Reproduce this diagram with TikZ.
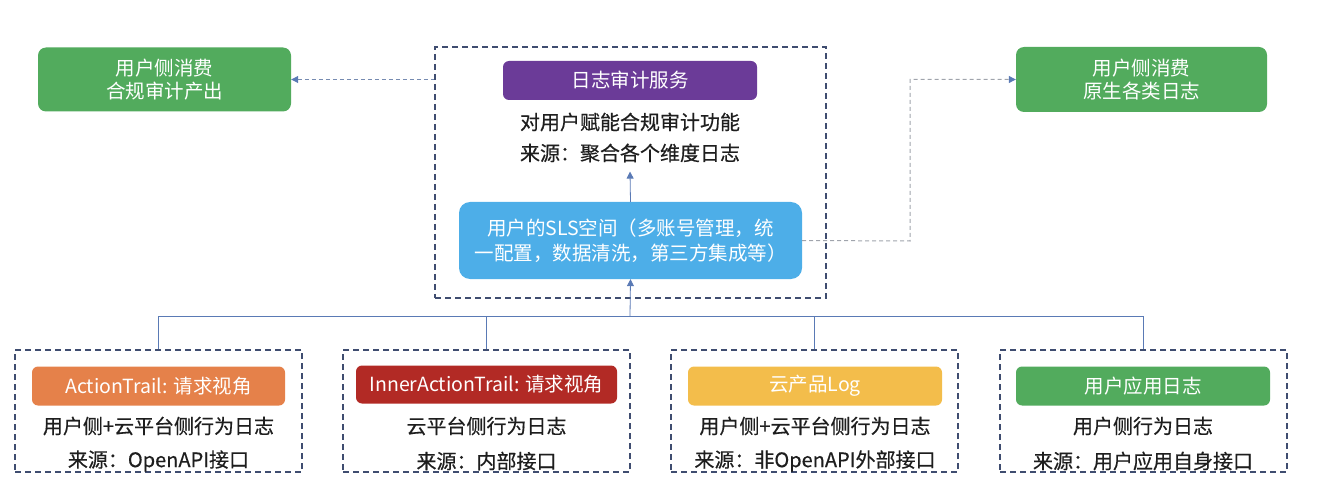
\documentclass[tikz,border=0pt]{standalone}
\usepackage{fontspec}
\setmainfont{Noto Sans CJK SC}
\newfontfamily\bodyfont{Noto Sans CJK SC}[FakeBold=0.5]
\usetikzlibrary{arrows.meta}
\definecolor{cgreen}{HTML}{52AB5D}
\definecolor{cpurple}{HTML}{6B3B98}
\definecolor{cblue}{HTML}{4DAEE8}
\definecolor{corange}{HTML}{E5814A}
\definecolor{cred}{HTML}{B22A25}
\definecolor{cyellow}{HTML}{F3BD4B}
\definecolor{cframe}{HTML}{3F4D70}
\definecolor{carrow}{HTML}{5A7AB5}
\definecolor{cgrey}{HTML}{A0A4AC}
\definecolor{ctext}{HTML}{1E1E1E}
\begin{document}
\begin{tikzpicture}[x=1pt,y=-1pt,
  fill box/.style={rounded corners=8pt, text=white, align=center, inner sep=0pt,
    font=\fontsize{19.5}{23}\selectfont},
  frame/.style={draw=cframe, line width=1.3pt, dash pattern=on 6pt off 4pt, inner sep=0pt},
  plain/.style={text=ctext, font=\bodyfont\fontsize{20}{23}\selectfont, inner sep=0pt},
  link/.style={draw=carrow, line width=0.8pt},
  tip/.style={-{Triangle[width=7pt,length=7pt,color=carrow]}},
  rtip/.style={{Triangle[width=7pt,length=7pt,color=carrow]}-},
  dlink/.style={draw=cgrey, line width=1pt, dash pattern=on 4pt off 3pt}
]
\useasboundingbox (0,0) rectangle (1326,500);

% central frame
\node[frame, minimum width=391pt, minimum height=251pt] (cbox) at (630.5,172.5) {};

\node[fill box, fill=cgreen, minimum width=253pt, minimum height=64pt] (lg) at (164.5,79.5) {用户侧消费\\合规审计产出};
\node[fill box, fill=cgreen, minimum width=251pt, minimum height=65pt] (rg) at (1141.5,79.5) {用户侧消费\\原生各类日志};

\node[fill box, fill=cpurple, rounded corners=6pt, minimum width=254pt, minimum height=39pt] (audit) at (630,80.5) {日志审计服务};
\node[plain] (t1) at (630,122) {对用户赋能合规审计功能};
\node[plain] (t2) at (630,153) {来源：聚合各个维度日志};

\node[fill box, fill=cblue, rounded corners=11pt, minimum width=343pt, minimum height=77pt,
  font=\fontsize{19.5}{25}\selectfont] (sls) at (630.5,240.5) {用户的SLS空间（多账号管理，统\\一配置，数据清洗，第三方集成等）};

% bottom frames
\node[frame, minimum width=287pt, minimum height=122pt] (b1) at (158.5,411) {};
\node[frame, minimum width=287pt, minimum height=122pt] (b2) at (486.5,411) {};
\node[frame, minimum width=287pt, minimum height=122pt] (b3) at (814.5,411) {};
\node[frame, minimum width=287pt, minimum height=122pt] (b4) at (1143.5,411) {};

\node[fill box, fill=corange, rounded corners=6pt, minimum width=253pt, minimum height=39pt] (h1) at (158.5,386) {ActionTrail: 请求视角};
\node[fill box, fill=cred, rounded corners=6pt, minimum width=261pt, minimum height=38pt] (h2) at (486.5,384.5) {InnerActionTrail: 请求视角};
\node[fill box, fill=cyellow, rounded corners=6pt, minimum width=254pt, minimum height=39pt] (h3) at (815,386) {云产品Log};
\node[fill box, fill=cgreen, rounded corners=6pt, minimum width=254pt, minimum height=39pt] (h4) at (1143,386) {用户应用日志};

\node[plain] (a1) at (158.5,426) {用户侧+云平台侧行为日志};
\node[plain] (a2) at (158.5,461) {来源：OpenAPI接口};
\node[plain] (c1) at (486.5,426) {云平台侧行为日志};
\node[plain] (c2) at (486.5,461) {来源：内部接口};
\node[plain] (d1) at (815,426) {用户侧+云平台侧行为日志};
\node[plain] (d2) at (815,461) {来源：非OpenAPI外部接口};
\node[plain] (e1) at (1143,426) {用户侧行为日志};
\node[plain] (e2) at (1143,461) {来源：用户应用自身接口};

% connectors
\coordinate (bus) at (630,316);
\draw[link] (b1.north) -- (b1.north |- bus) -- (b4.north |- bus) -- (b4.north);
\draw[link] (b2.north) -- (b2.north |- bus);
\draw[link] (b3.north) -- (b3.north |- bus);
\draw[link, tip] (bus) -- (sls.south);
\draw[link, tip] (sls.north) -- ([yshift=-9pt]t2.south);

\draw[dlink, draw=carrow!60!cgrey, rtip] (lg.east) -- (cbox.west |- lg.east);
\coordinate (bend) at (910,241);
\draw[dlink, tip] (sls.east) -- (bend) |- (rg.west);
\end{tikzpicture}
\end{document}
